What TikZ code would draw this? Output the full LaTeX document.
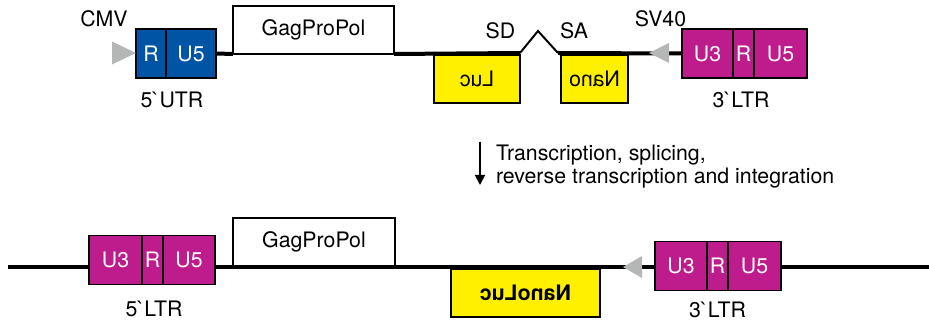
\documentclass[tikz,border=0pt]{standalone}
\usepackage{graphicx}
\usepackage{fontspec}
\setmainfont{TeX Gyre Heros}
\usetikzlibrary{positioning,arrows.meta}
\definecolor{utrblue}{RGB}{0,84,166}
\definecolor{ltrpink}{RGB}{190,28,140}
\definecolor{lucyellow}{RGB}{255,240,0}
\definecolor{promgray}{RGB}{181,183,183}

\begin{document}
\begin{tikzpicture}[x=1pt,y=-1pt,
  every node/.style={font=\fontsize{21.3pt}{23pt}\selectfont, inner sep=0pt, outer sep=0pt},
  seg/.style={draw, line width=1.3pt, minimum height=49pt, text=white},
  utr/.style={seg, fill=utrblue},
  ltr/.style={seg, fill=ltrpink},
  gene/.style={draw, fill=white, line width=1.3pt, minimum height=48pt},
  rep/.style={gene, fill=lucyellow},
  dna/.style={line width=4pt},
  promoter/.style={fill=promgray}]
\useasboundingbox (0,0) rectangle (929,328);

% vector
\node[utr, minimum width=30pt] (tR) at (151,53.5) {R};
\node[utr, minimum width=50pt, right=0pt of tR] (tU5) {U5};
\node[gene, minimum width=161pt] (tGag) at (313.5,30) {GagProPol};
\node[rep, minimum width=86pt] (tLuc) at (477,79) {\reflectbox{Luc}};
\node[rep, minimum width=67pt] (tNano) at (594.5,79) {\reflectbox{Nano}};
\node[ltr, minimum width=51pt] (tU3b) at (707.5,53.5) {U3};
\node[ltr, minimum width=21pt, right=0pt of tU3b] (tRb) {R};
\node[ltr, minimum width=53pt, right=0pt of tRb] (tU5b) {U5};

\coordinate (tSD) at (520,53);
\coordinate (tPeak) at (538,31);
\coordinate (tSA) at (558,53);
\coordinate (tCMV) at (136,53);
\coordinate (tSV) at (649,53);

\draw[dna] (tU5.east) -- (tGag.south west);
\draw[dna] (tGag.south east) -- (tSD);
\draw[line width=2pt, line join=miter] (tSD) -- (tPeak) -- (tSA);
\draw[dna] (tSA) -- (tU3b.west);
\fill[promoter] (tCMV) -- ++(-24,-11.5) -- ++(0,23) -- cycle;
\fill[promoter] (tSV) -- ++(20,-10) -- ++(0,20) -- cycle;

\node[anchor=base] (tCMVl) at (104,27) {CMV};
\node[anchor=base] (tSDl) at (500.5,39) {SD};
\node[anchor=base] (tSAl) at (574,39) {SA};
\node[anchor=base] (tSVl) at (660.5,27) {SV40};
\node[anchor=base] (tUTRl) at (172,108) {5\textasciigrave UTR};
\node[anchor=base] (tLTRl) at (741,108) {3\textasciigrave LTR};

% arrow
\coordinate (aTop) at (480,142);
\coordinate (aBot) at (480,185);
\draw[line width=1.8pt, -{Triangle[length=10pt,width=10pt]}] (aTop) -- (aBot);
\node[anchor=west, align=left] (txt) at (496,167) {Transcription, splicing,\\reverse transcription and integration};

% provirus
\coordinate (bL) at (8,267);
\coordinate (bR) at (929,267);
\draw[dna] (bL) -- (bR);
\node[ltr, minimum width=53pt] (bU3) at (115.5,260) {U3};
\node[ltr, minimum width=21pt, right=0pt of bU3] (bR1) {R};
\node[ltr, minimum width=52pt, right=0pt of bR1] (bU5) {U5};
\node[gene, minimum width=162pt] (bGag) at (314,242) {GagProPol};
\node[rep, minimum width=149pt] (bNL) at (525.5,293) {\reflectbox{\bfseries NanoLuc}};
\node[ltr, minimum width=52pt] (bU3b) at (681,266) {U3};
\node[ltr, minimum width=21pt, right=0pt of bU3b] (bR2) {R};
\node[ltr, minimum width=53pt, right=0pt of bR2] (bU5b) {U5};

\coordinate (bSV) at (623,267);
\fill[promoter] (bSV) -- ++(19,-11) -- ++(0,22) -- cycle;

\node[anchor=base] (bLTR5) at (154,317) {5\textasciigrave LTR};
\node[anchor=base] (bLTR3) at (717.5,318) {3\textasciigrave LTR};
\end{tikzpicture}
\end{document}
